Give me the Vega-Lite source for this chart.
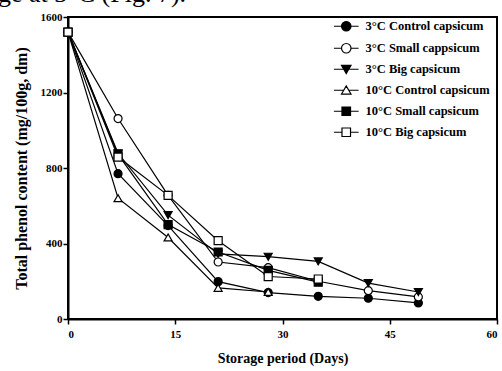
{
  "$schema": "https://vega.github.io/schema/vega-lite/v6.json",
  "width": 429,
  "height": 302,
  "autosize": "none",
  "padding": {"left": 68, "top": 17, "right": 5, "bottom": 52},
  "background": "white",
  "title": {
    "text": "ge at 3°C (Fig. 7).",
    "anchor": "start",
    "frame": "group",
    "font": "Liberation Serif",
    "fontSize": 26,
    "fontWeight": "normal",
    "baseline": "alphabetic",
    "offset": 0,
    "dy": 17,
    "dx": -70,
    "color": "black"
  },
  "config": {
    "view": {"stroke": "black", "strokeWidth": 2},
    "font": "Liberation Serif",
    "axis": {
      "domainColor": "black", "domainWidth": 2,
      "tickColor": "black", "tickWidth": 1.5, "tickSize": 5,
      "labelFont": "Liberation Serif", "labelFontWeight": "bold", "labelFontSize": 11, "labelColor": "black",
      "titleFont": "Liberation Serif", "titleFontWeight": "bold", "titleColor": "black",
      "grid": false
    },
    "legend": {
      "labelFont": "Liberation Serif", "labelFontWeight": "bold", "labelFontSize": 12.5, "labelColor": "black"
    }
  },
  "data": {
    "values": [
      {"series": "3°C Control capsicum", "day": 0, "value": 1520},
      {"series": "3°C Control capsicum", "day": 7, "value": 770},
      {"series": "3°C Control capsicum", "day": 14, "value": 495},
      {"series": "3°C Control capsicum", "day": 21, "value": 198},
      {"series": "3°C Control capsicum", "day": 28, "value": 140},
      {"series": "3°C Control capsicum", "day": 35, "value": 120},
      {"series": "3°C Control capsicum", "day": 42, "value": 110},
      {"series": "3°C Control capsicum", "day": 49, "value": 85},
      {"series": "3°C Small cappsicum", "day": 0, "value": 1520},
      {"series": "3°C Small cappsicum", "day": 7, "value": 1062},
      {"series": "3°C Small cappsicum", "day": 14, "value": 655},
      {"series": "3°C Small cappsicum", "day": 21, "value": 302},
      {"series": "3°C Small cappsicum", "day": 28, "value": 272},
      {"series": "3°C Small cappsicum", "day": 35, "value": 200},
      {"series": "3°C Small cappsicum", "day": 42, "value": 150},
      {"series": "3°C Small cappsicum", "day": 49, "value": 117},
      {"series": "3°C Big capsicum", "day": 0, "value": 1520},
      {"series": "3°C Big capsicum", "day": 7, "value": 878},
      {"series": "3°C Big capsicum", "day": 14, "value": 550},
      {"series": "3°C Big capsicum", "day": 21, "value": 345},
      {"series": "3°C Big capsicum", "day": 28, "value": 330},
      {"series": "3°C Big capsicum", "day": 35, "value": 305},
      {"series": "3°C Big capsicum", "day": 42, "value": 190},
      {"series": "3°C Big capsicum", "day": 49, "value": 143},
      {"series": "10°C Control capsicum", "day": 0, "value": 1520},
      {"series": "10°C Control capsicum", "day": 7, "value": 640},
      {"series": "10°C Control capsicum", "day": 14, "value": 432},
      {"series": "10°C Control capsicum", "day": 21, "value": 165},
      {"series": "10°C Control capsicum", "day": 28, "value": 143},
      {"series": "10°C Small capsicum", "day": 0, "value": 1520},
      {"series": "10°C Small capsicum", "day": 7, "value": 872},
      {"series": "10°C Small capsicum", "day": 14, "value": 500},
      {"series": "10°C Small capsicum", "day": 21, "value": 355},
      {"series": "10°C Small capsicum", "day": 28, "value": 258},
      {"series": "10°C Small capsicum", "day": 35, "value": 195},
      {"series": "10°C Big capsicum", "day": 0, "value": 1520},
      {"series": "10°C Big capsicum", "day": 7, "value": 858},
      {"series": "10°C Big capsicum", "day": 14, "value": 655},
      {"series": "10°C Big capsicum", "day": 21, "value": 415},
      {"series": "10°C Big capsicum", "day": 28, "value": 225},
      {"series": "10°C Big capsicum", "day": 35, "value": 212}
    ]
  },
  "encoding": {
    "x": {
      "field": "day", "type": "quantitative",
      "scale": {"domain": [0, 60], "nice": false, "zero": false},
      "axis": {"values": [0, 15, 30, 45, 60], "title": "Storage period (Days)", "titleFontSize": 14, "labelPadding": 4, "titlePadding": 12}
    },
    "y": {
      "field": "value", "type": "quantitative",
      "scale": {"domain": [0, 1600], "nice": false},
      "axis": {"values": [0, 400, 800, 1200, 1600], "format": "d", "title": "Total phenol content (mg/100g, dm)", "titleFontSize": 16, "labelPadding": 1, "titlePadding": 11}
    }
  },
  "layer": [
    {
      "mark": {"type": "line", "color": "black", "strokeWidth": 1.2},
      "encoding": {"detail": {"field": "series"}}
    },
    {
      "transform": [{"filter": {"field": "series", "equal": "3°C Control capsicum"}}],
      "mark": {"type": "point", "shape": "circle", "fill": "black", "stroke": "black", "strokeWidth": 1.2, "opacity": 1, "size": 64},
      "encoding": {}
    },
    {
      "transform": [{"filter": {"field": "series", "equal": "3°C Small cappsicum"}}],
      "mark": {"type": "point", "shape": "circle", "fill": "white", "stroke": "black", "strokeWidth": 1.2, "opacity": 1, "size": 64},
      "encoding": {}
    },
    {
      "transform": [{"filter": {"field": "series", "equal": "3°C Big capsicum"}}],
      "mark": {"type": "point", "shape": "triangle-down", "fill": "black", "stroke": "black", "strokeWidth": 1.2, "opacity": 1, "size": 64},
      "encoding": {}
    },
    {
      "transform": [{"filter": {"field": "series", "equal": "10°C Control capsicum"}}],
      "mark": {"type": "point", "shape": "triangle-up", "fill": "white", "stroke": "black", "strokeWidth": 1.2, "opacity": 1, "size": 64},
      "encoding": {}
    },
    {
      "transform": [{"filter": {"field": "series", "equal": "10°C Small capsicum"}}],
      "mark": {"type": "point", "shape": "square", "fill": "black", "stroke": "black", "strokeWidth": 1.2, "opacity": 1, "size": 64},
      "encoding": {}
    },
    {
      "transform": [{"filter": {"field": "series", "equal": "10°C Big capsicum"}}],
      "mark": {"type": "point", "shape": "square", "fill": "white", "stroke": "black", "strokeWidth": 1.2, "opacity": 1, "size": 64},
      "encoding": {}
    },
    {
      "transform": [{"filter": "datum.day < -1"}],
      "mark": {"type": "point", "stroke": "black", "strokeWidth": 1.2, "opacity": 1},
      "encoding": {
        "shape": {
          "field": "series", "type": "nominal",
          "scale": {
            "domain": ["3°C Control capsicum", "3°C Small cappsicum", "3°C Big capsicum", "10°C Control capsicum", "10°C Small capsicum", "10°C Big capsicum"],
            "range": [
              "M-2.6,0L-1,0M1,0L2.6,0M-1,0A1,1,0,1,1,1,0A1,1,0,1,1,-1,0Z",
              "M-2.6,0L-1,0M1,0L2.6,0M-1,0A1,1,0,1,1,1,0A1,1,0,1,1,-1,0Z",
              "M-2.6,0L-0.5,0M0.5,0L2.6,0M-1,-0.8L1,-0.8L0,0.9Z",
              "M-2.6,0L-0.5,0M0.5,0L2.6,0M-1,0.8L1,0.8L0,-0.9Z",
              "M-2.6,0L-0.9,0M0.9,0L2.6,0M-0.9,-0.9L0.9,-0.9L0.9,0.9L-0.9,0.9Z",
              "M-2.6,0L-0.9,0M0.9,0L2.6,0M-0.9,-0.9L0.9,-0.9L0.9,0.9L-0.9,0.9Z"
            ]
          },
          "legend": {
            "title": null,
            "orient": "none",
            "legendX": 272,
            "legendY": 3,
            "symbolSize": 90,
            "labelOffset": 13,
            "rowPadding": 7,
            "padding": 0,
            "encoding": {
              "symbols": {
                "stroke": {"value": "black"},
                "strokeWidth": {"value": 1.2},
                "opacity": {"value": 1}
              }
            }
          }
        },
        "fill": {
          "field": "series", "type": "nominal",
          "scale": {
            "domain": ["3°C Control capsicum", "3°C Small cappsicum", "3°C Big capsicum", "10°C Control capsicum", "10°C Small capsicum", "10°C Big capsicum"],
            "range": ["black", "white", "black", "white", "black", "white"]
          },
          "legend": {
            "title": null,
            "orient": "none",
            "legendX": 272,
            "legendY": 3,
            "symbolSize": 90,
            "labelOffset": 13,
            "rowPadding": 7,
            "padding": 0,
            "encoding": {
              "symbols": {
                "stroke": {"value": "black"},
                "strokeWidth": {"value": 1.2},
                "opacity": {"value": 1}
              }
            }
          }
        }
      }
    }
  ]
}
